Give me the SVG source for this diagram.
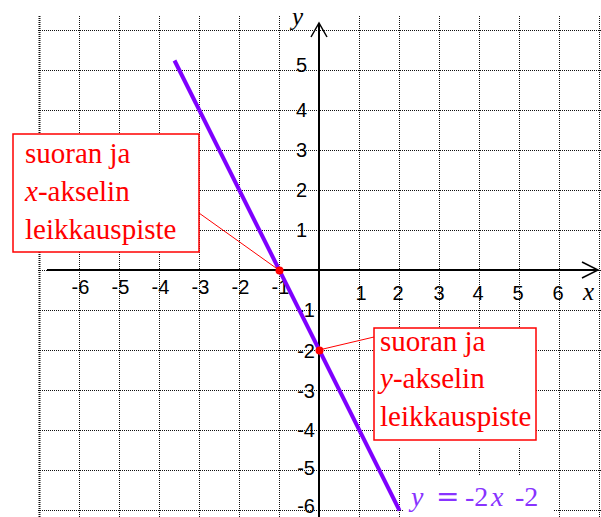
<svg xmlns="http://www.w3.org/2000/svg" width="601" height="517" viewBox="0 0 601 517">
<style>
.grid line{stroke:#111;stroke-width:1;stroke-dasharray:1 1}
.axis{stroke:#000;stroke-width:2;fill:none}
.arrow{stroke:#000;stroke-width:1.5;fill:none}
.num{font-family:"Liberation Sans",Arial,sans-serif;font-size:20px;fill:#000}
.bg{fill:#fff;stroke:none}
.box{fill:#fff;stroke:#f00;stroke-width:1.5}
.lbl{font-family:"Liberation Serif","Times New Roman","DejaVu Serif",serif;font-size:29px;fill:#f00}
.eq{font-family:"Liberation Serif","Times New Roman","DejaVu Serif",serif;font-size:28px;fill:#8833ff}
.it{font-style:italic}
.lead{stroke:#f00;stroke-width:1}
.pt{fill:#f00}
.ax{font-family:"Liberation Serif","Times New Roman","DejaVu Serif",serif;font-size:25px;font-style:italic;fill:#000}
</style>
<g id="grid" class="grid">
<line x1="39.5" y1="16" x2="39.5" y2="517" style="stroke-width:2"/>
<line x1="79.5" y1="16" x2="79.5" y2="517"/>
<line x1="119.5" y1="16" x2="119.5" y2="517"/>
<line x1="159.5" y1="16" x2="159.5" y2="517"/>
<line x1="199.5" y1="16" x2="199.5" y2="517"/>
<line x1="239.5" y1="16" x2="239.5" y2="517"/>
<line x1="279.5" y1="16" x2="279.5" y2="517"/>
<line x1="359.5" y1="16" x2="359.5" y2="517"/>
<line x1="399.5" y1="16" x2="399.5" y2="517"/>
<line x1="439.5" y1="16" x2="439.5" y2="517"/>
<line x1="479.5" y1="16" x2="479.5" y2="517"/>
<line x1="519.5" y1="16" x2="519.5" y2="517"/>
<line x1="559.5" y1="16" x2="559.5" y2="517"/>
<line x1="599.5" y1="16" x2="599.5" y2="517"/>
<line x1="38" y1="30.5" x2="601" y2="30.5"/>
<line x1="38" y1="70.5" x2="601" y2="70.5"/>
<line x1="38" y1="110.5" x2="601" y2="110.5"/>
<line x1="38" y1="150.5" x2="601" y2="150.5"/>
<line x1="38" y1="190.5" x2="601" y2="190.5"/>
<line x1="38" y1="230.5" x2="601" y2="230.5"/>
<line x1="38" y1="270.5" x2="601" y2="270.5"/>
<line x1="38" y1="310.5" x2="601" y2="310.5"/>
<line x1="38" y1="350.5" x2="601" y2="350.5"/>
<line x1="38" y1="390.5" x2="601" y2="390.5"/>
<line x1="38" y1="430.5" x2="601" y2="430.5"/>
<line x1="38" y1="470.5" x2="601" y2="470.5"/>
<line x1="38" y1="510.5" x2="601" y2="510.5"/>
</g>
<g id="axes">
<line class="axis" x1="47" y1="270" x2="597" y2="270"/>
<polyline class="arrow" points="582,262 598,270 582,278"/>
<line class="axis" x1="319" y1="24" x2="319" y2="517"/>
<polyline class="arrow" points="311,37 319,23 327,37"/>
<text class="ax" x="292" y="25">y</text>
<text class="ax" x="583" y="300">x</text>
</g>
<g id="ticks" class="num">
<text x="71.5" y="294">-6</text>
<text x="111.5" y="294">-5</text>
<text x="151.5" y="294">-4</text>
<text x="191.5" y="294">-3</text>
<text x="231.5" y="294">-2</text>
<text x="271.5" y="294">-1</text>
<g text-anchor="middle">
<text x="361" y="300">1</text>
<text x="398" y="300">2</text>
<text x="439" y="300">3</text>
<text x="478" y="300">4</text>
<text x="518" y="300">5</text>
<text x="558" y="300">6</text>
</g>
<g text-anchor="end">
<text x="307" y="72">5</text>
<text x="307" y="117">4</text>
<text x="307" y="157">3</text>
<text x="307" y="197">2</text>
<text x="307" y="237">1</text>
<text x="315" y="317">-1</text>
<text x="315" y="358">-2</text>
<text x="315" y="398">-3</text>
<text x="315" y="437">-4</text>
<text x="315" y="475">-5</text>
<text x="315" y="513">-6</text>
</g>
</g>
<g id="graph-line">
<line x1="174.5" y1="60.5" x2="399.5" y2="510.5" stroke="#7f00ff" stroke-width="4"/>
</g>
<g id="connectors">
<line class="lead" x1="199" y1="213" x2="279.5" y2="270.5"/>
<line class="lead" x1="321" y1="349.5" x2="374" y2="337"/>
</g>
<g id="x-intercept"><circle class="pt" cx="279.5" cy="270.5" r="4"/></g>
<g id="y-intercept"><circle class="pt" cx="319.5" cy="350.5" r="4"/></g>
<g id="label-x-intercept">
<rect class="box" x="13" y="134" width="186" height="118"/>
<text class="lbl" x="25" y="163">suoran ja</text>
<text class="lbl" x="25" y="201"><tspan class="it">x</tspan>-akselin</text>
<text class="lbl" x="25" y="239">leikkauspiste</text>
</g>
<g id="label-y-intercept">
<rect class="bg" x="374" y="328" width="162" height="119"/>
<rect class="box" x="374" y="328" width="162" height="112"/>
<text class="lbl" x="380" y="351">suoran ja</text>
<text class="lbl" x="380" y="388"><tspan class="it">y</tspan>-akselin</text>
<text class="lbl" x="380" y="426">leikkauspiste</text>
</g>
<g id="equation">
<rect class="bg" x="404" y="476" width="150" height="41"/>
<text class="eq" y="506"><tspan class="it" x="411">y</tspan><tspan x="436" style="font-family:'DejaVu Sans',sans-serif">=</tspan><tspan x="465">-2</tspan><tspan class="it" x="491">x</tspan><tspan x="515">-2</tspan></text>
</g>
</svg>
